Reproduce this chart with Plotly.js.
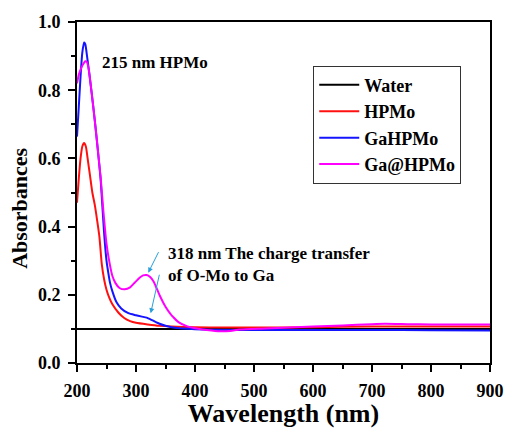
<!DOCTYPE html>
<html>
<head>
<meta charset="utf-8">
<script src="https://cdn.plot.ly/plotly-3.0.1.min.js"></script>
<style>
  body { margin: 0; background: #fff; }
</style>
</head>
<body>
<div id="chart"></div>
<script>
// UV-Vis absorbance spectra (wavelength in nm)
const waterX = [200, 300, 400, 500, 600, 700, 800, 900];
const waterY = [0.1, 0.1, 0.1, 0.1, 0.1, 0.1, 0.1, 0.1];

const hpmoX = [200, 203, 206, 209, 212, 215, 218, 222, 226, 230, 234, 238, 242, 246, 250, 255, 260, 270, 280, 290, 300, 320, 340, 360, 400, 450, 500, 600, 700, 800, 900];
const hpmoY = [0.47, 0.54, 0.60, 0.635, 0.645, 0.635, 0.60, 0.55, 0.50, 0.465, 0.42, 0.37, 0.29, 0.245, 0.215, 0.19, 0.172, 0.148, 0.132, 0.123, 0.118, 0.113, 0.109, 0.107, 0.105, 0.104, 0.104, 0.105, 0.107, 0.107, 0.107];

const gahpmoX = [200, 203, 206, 209, 212, 214, 217, 220, 225, 230, 235, 240, 243, 246, 250, 253, 256, 260, 267, 275, 287, 300, 310, 318, 328, 340, 350, 363, 380, 400, 450, 500, 600, 700, 800, 900];
const gahpmoY = [0.664, 0.75, 0.84, 0.91, 0.94, 0.935, 0.90, 0.86, 0.79, 0.714, 0.63, 0.54, 0.46, 0.38, 0.30, 0.265, 0.235, 0.21, 0.178, 0.16, 0.146, 0.14, 0.136, 0.133, 0.125, 0.115, 0.109, 0.104, 0.101, 0.099, 0.097, 0.097, 0.097, 0.097, 0.096, 0.095];

const gaAtX = [200, 203, 206, 210, 214, 217, 220, 225, 230, 235, 240, 245, 250, 255, 260, 265, 272, 281, 290, 298, 306, 312, 318, 324, 330, 336, 341, 350, 358, 363, 372, 386, 400, 420, 442, 460, 476, 520, 560, 600, 650, 700, 722, 760, 800, 850, 900];
const gaAtY = [0.82, 0.845, 0.86, 0.875, 0.885, 0.882, 0.86, 0.79, 0.714, 0.63, 0.545, 0.44, 0.35, 0.295, 0.255, 0.235, 0.22, 0.216, 0.222, 0.236, 0.25, 0.257, 0.258, 0.252, 0.238, 0.215, 0.195, 0.165, 0.145, 0.135, 0.12, 0.108, 0.102, 0.097, 0.093, 0.094, 0.098, 0.101, 0.104, 0.107, 0.11, 0.114, 0.115, 0.114, 0.113, 0.113, 0.113];

function serifBold(size) {
  return { family: 'Liberation Serif', size: size, weight: 'bold', color: '#000' };
}

const traces = [
  { x: waterX, y: waterY, name: 'Water', mode: 'lines', line: { color: '#000000', width: 2 } },
  { x: hpmoX, y: hpmoY, name: 'HPMo', mode: 'lines', line: { color: '#ff1010', width: 2, shape: 'spline', smoothing: 0.6 } },
  { x: gahpmoX, y: gahpmoY, name: 'GaHPMo', mode: 'lines', line: { color: '#1414ff', width: 2, shape: 'spline', smoothing: 0.6 } },
  { x: gaAtX, y: gaAtY, name: 'Ga@HPMo', mode: 'lines', line: { color: '#ff00ff', width: 2, shape: 'spline', smoothing: 0.6 } }
];

const layout = {
  width: 506, height: 428,
  margin: { l: 77, r: 16, t: 22, b: 65 },
  paper_bgcolor: '#fff', plot_bgcolor: '#fff',
  font: serifBold(14),
  xaxis: {
    showline: true, linewidth: 2, linecolor: '#000', mirror: true,
    showgrid: false, zeroline: false,
    ticks: 'outside', ticklen: 7, tickwidth: 2, tickcolor: '#000',
    tickfont: serifBold(18), ticklabelstandoff: 3,
    range: [200, 900], dtick: 100, tick0: 200,
    minor: { dtick: 50, ticks: 'outside', ticklen: 4, tickwidth: 2, tickcolor: '#000' },
    title: { text: 'Wavelength (nm)', font: serifBold(26), standoff: 1 }
  },
  yaxis: {
    showline: true, linewidth: 2, linecolor: '#000', mirror: true,
    showgrid: false, zeroline: false,
    ticks: 'outside', ticklen: 7, tickwidth: 2, tickcolor: '#000',
    tickfont: serifBold(18), ticklabelstandoff: 4,
    range: [0, 1], dtick: 0.2, tick0: 0, tickformat: '.1f',
    minor: { dtick: 0.1, ticks: 'outside', ticklen: 4, tickwidth: 2, tickcolor: '#000' }
  },
  legend: {
    x: 0.572, y: 0.872, xanchor: 'left', yanchor: 'top',
    bgcolor: '#fff', bordercolor: '#333', borderwidth: 1,
    itemwidth: 40,
    font: serifBold(18)
  },
  showlegend: true,
  annotations: [
    // y-axis title, placed a little below the vertical centre of the plot
    { x: 0, y: 0.452, xref: 'paper', yref: 'paper', xanchor: 'center', yanchor: 'middle',
      xshift: -57, textangle: -90, text: 'Absorbances', showarrow: false, font: serifBold(22) },
    { x: 239, y: 0.881, xref: 'x', yref: 'y', xanchor: 'left', yanchor: 'middle',
      text: '215 nm HPMo', showarrow: false, font: serifBold(17) },
    { x: 350.8, y: 0.289, xref: 'x', yref: 'y', xanchor: 'left', yanchor: 'middle', align: 'left',
      text: '318 nm The charge transfer<br>of O-Mo to Ga', showarrow: false, font: serifBold(17) },
    { x: 320.8, y: 0.265, xref: 'x', yref: 'y', text: '', showarrow: true,
      ax: 11, ay: -22, arrowhead: 2, arrowsize: 1, arrowwidth: 1, arrowcolor: '#2a9fd8' },
    { x: 324.9, y: 0.146, xref: 'x', yref: 'y', text: '', showarrow: true,
      ax: 9, ay: -40, arrowhead: 2, arrowsize: 1, arrowwidth: 1, arrowcolor: '#2a9fd8' }
  ]
};

Plotly.newPlot('chart', traces, layout, { displayModeBar: false });
</script>
</body>
</html>
